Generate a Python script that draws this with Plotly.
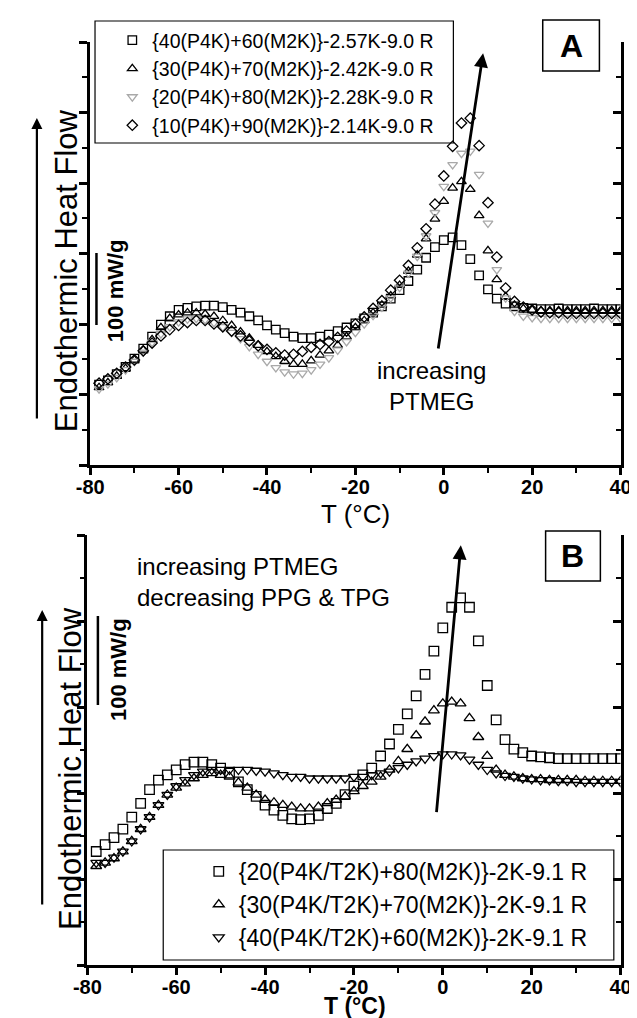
import plotly.graph_objects as go

# ---------------- data ----------------
temperature_c = [-78, -76, -74, -72, -70, -68, -66, -64, -62, -60,
                 -58, -56, -54, -52, -50, -48, -46, -44, -42, -40,
                 -38, -36, -34, -32, -30, -28, -26, -24, -22, -20,
                 -18, -16, -14, -12, -10, -8, -6, -4, -2, 0,
                 2, 4, 6, 8, 10, 12, 14, 16, 18, 20,
                 22, 24, 26, 28, 30, 32, 34, 36, 38, 40]

# Panel A (heat flow in units of 100 mW/g, arbitrary offset)
a_names = ["{40(P4K)+60(M2K)}-2.57K-9.0 R", "{30(P4K)+70(M2K)}-2.42K-9.0 R",
           "{20(P4K)+80(M2K)}-2.28K-9.0 R", "{10(P4K)+90(M2K)}-2.14K-9.0 R"]
a_40p4k = [1.14, 1.20, 1.29, 1.39, 1.51, 1.65, 1.82, 1.99, 2.11, 2.20,
           2.23, 2.25, 2.26, 2.26, 2.24, 2.20, 2.16, 2.11, 2.05, 1.98,
           1.92, 1.87, 1.82, 1.80, 1.80, 1.82, 1.85, 1.90, 1.95, 2.01,
           2.08, 2.16, 2.25, 2.36, 2.48, 2.61, 2.77, 2.94, 3.09, 3.19,
           3.23, 3.12, 2.92, 2.69, 2.49, 2.36, 2.29, 2.25, 2.23, 2.22,
           2.21, 2.21, 2.22, 2.21, 2.21, 2.21, 2.22, 2.21, 2.21, 2.21]
a_30p4k = [1.10, 1.17, 1.26, 1.37, 1.49, 1.63, 1.78, 1.95, 2.08, 2.13,
           2.16, 2.16, 2.14, 2.11, 2.05, 1.98, 1.89, 1.80, 1.70, 1.61,
           1.54, 1.47, 1.43, 1.43, 1.48, 1.56, 1.62, 1.70, 1.82, 1.95,
           2.05, 2.16, 2.27, 2.40, 2.55, 2.75, 2.98, 3.21, 3.49, 3.74,
           3.93, 4.02, 3.91, 3.54, 3.04, 2.63, 2.39, 2.27, 2.22, 2.20,
           2.19, 2.19, 2.19, 2.19, 2.19, 2.19, 2.19, 2.19, 2.19, 2.19]
a_20p4k = [1.08, 1.15, 1.24, 1.35, 1.47, 1.60, 1.74, 1.86, 1.96, 2.03,
           2.07, 2.08, 2.06, 2.02, 1.96, 1.88, 1.79, 1.68, 1.57, 1.47,
           1.38, 1.32, 1.29, 1.30, 1.35, 1.43, 1.52, 1.63, 1.75, 1.88,
           2.00, 2.12, 2.24, 2.37, 2.52, 2.72, 2.96, 3.25, 3.58, 3.95,
           4.26, 4.42, 4.45, 4.12, 3.43, 2.77, 2.37, 2.18, 2.11, 2.09,
           2.08, 2.08, 2.08, 2.08, 2.08, 2.08, 2.08, 2.08, 2.08, 2.08]
a_10p4k = [1.16, 1.22, 1.30, 1.39, 1.49, 1.62, 1.73, 1.83, 1.92, 1.98,
           2.02, 2.05, 2.05, 2.00, 1.96, 1.90, 1.83, 1.76, 1.69, 1.64,
           1.59, 1.56, 1.57, 1.61, 1.67, 1.71, 1.75, 1.81, 1.90, 2.00,
           2.10, 2.22, 2.33, 2.48, 2.62, 2.83, 3.08, 3.35, 3.70, 4.10,
           4.52, 4.85, 4.92, 4.53, 3.72, 2.95, 2.51, 2.32, 2.24, 2.20,
           2.17, 2.16, 2.16, 2.15, 2.15, 2.15, 2.15, 2.15, 2.15, 2.15]

# Panel B
b_names = ["{20(P4K/T2K)+80(M2K)}-2K-9.1 R", "{30(P4K/T2K)+70(M2K)}-2K-9.1 R",
           "{40(P4K/T2K)+60(M2K)}-2K-9.1 R"]
b_20 = [1.32, 1.40, 1.48, 1.58, 1.72, 1.88, 2.04, 2.15, 2.21, 2.27,
        2.33, 2.36, 2.36, 2.33, 2.29, 2.23, 2.13, 2.04, 1.96, 1.86,
        1.80, 1.74, 1.70, 1.69, 1.70, 1.74, 1.82, 1.88, 1.98, 2.08,
        2.21, 2.29, 2.43, 2.57, 2.74, 2.92, 3.13, 3.38, 3.65, 3.92,
        4.16, 4.27, 4.16, 3.77, 3.25, 2.85, 2.62, 2.51, 2.47, 2.43,
        2.42, 2.41, 2.40, 2.40, 2.40, 2.40, 2.40, 2.40, 2.40, 2.40]
b_30 = [1.15, 1.19, 1.24, 1.32, 1.44, 1.58, 1.72, 1.86, 1.98, 2.06,
        2.11, 2.17, 2.21, 2.23, 2.21, 2.19, 2.12, 2.06, 1.98, 1.92,
        1.89, 1.86, 1.84, 1.82, 1.82, 1.84, 1.88, 1.92, 1.96, 2.02,
        2.08, 2.13, 2.19, 2.27, 2.37, 2.51, 2.67, 2.83, 2.96, 3.04,
        3.06, 3.04, 2.87, 2.65, 2.43, 2.27, 2.21, 2.19, 2.17, 2.16,
        2.16, 2.15, 2.15, 2.15, 2.15, 2.14, 2.14, 2.14, 2.14, 2.14]
b_40 = [1.19, 1.19, 1.25, 1.32, 1.44, 1.58, 1.72, 1.86, 1.98, 2.08,
        2.15, 2.21, 2.25, 2.27, 2.27, 2.27, 2.27, 2.27, 2.26, 2.25,
        2.23, 2.21, 2.19, 2.19, 2.17, 2.17, 2.17, 2.17, 2.17, 2.19,
        2.19, 2.21, 2.23, 2.25, 2.29, 2.33, 2.37, 2.40, 2.43, 2.45,
        2.45, 2.44, 2.39, 2.33, 2.27, 2.23, 2.20, 2.19, 2.17, 2.16,
        2.15, 2.15, 2.14, 2.14, 2.13, 2.13, 2.13, 2.13, 2.13, 2.13]

x_tick_vals = [-80, -60, -40, -20, 0, 20, 40]
x_tick_text = ["-80", "-60", "-40", "-20", "0", "20", "40"]

# ---------------- figure ----------------
W, H = 637, 1018
FONT = "Liberation Sans, Arial, Helvetica, sans-serif"


def px(x):
    return x / W


def py(y):
    return 1 - y / H


fig = go.Figure()

a_styles = [
    dict(symbol="square-open", size=8.5, color="black"),
    dict(symbol="triangle-up-open", size=8.5, color="black"),
    dict(symbol="triangle-down-open", size=8.5, color="#a9a9a9"),
    dict(symbol="diamond-open", size=8, color="black"),
]
for name, vals, st in zip(a_names, [a_40p4k, a_30p4k, a_20p4k, a_10p4k], a_styles):
    fig.add_trace(go.Scatter(
        x=temperature_c, y=vals, mode="markers", name=name,
        marker=dict(symbol=st["symbol"], size=st["size"], color=st["color"],
                    line=dict(width=1.3, color=st["color"])),
        xaxis="x", yaxis="y", legend="legend"))

b_styles = [
    dict(symbol="square-open", size=9.5),
    dict(symbol="triangle-up-open", size=9.5),
    dict(symbol="triangle-down-open", size=9.5),
]
for name, vals, st in zip(b_names, [b_20, b_30, b_40], b_styles):
    fig.add_trace(go.Scatter(
        x=temperature_c, y=vals, mode="markers", name=name,
        marker=dict(symbol=st["symbol"], size=st["size"], color="black",
                    line=dict(width=1.3, color="black")),
        xaxis="x2", yaxis="y2", legend="legend2"))

# empty traces so that the mirrored right axes are drawn
fig.add_trace(go.Scatter(x=[], y=[], xaxis="x", yaxis="y3", showlegend=False))
fig.add_trace(go.Scatter(x=[], y=[], xaxis="x2", yaxis="y4", showlegend=False))

LW = 2.5
xcommon = dict(range=[-80, 40], tickvals=x_tick_vals, ticktext=x_tick_text,
               ticks="outside", ticklen=7, tickwidth=LW, tickcolor="black",
               showline=True, linewidth=LW, linecolor="black",
               showgrid=False, zeroline=False, ticklabelstandoff=-5,
               tickfont=dict(family=FONT, size=20, color="black", weight="bold"),
               minor=dict(dtick=10, tick0=0, ticks="outside", ticklen=5,
                          tickwidth=2, tickcolor="black", showgrid=False))
ycommon = dict(ticks="outside", ticklen=8, tickwidth=LW, tickcolor="black",
               showline=True, linewidth=LW, linecolor="black",
               showgrid=False, zeroline=False, showticklabels=False,
               dtick=1, tick0=0,
               minor=dict(dtick=0.5, tick0=0, ticks="outside", ticklen=5,
                          tickwidth=2, tickcolor="black", showgrid=False))
yright = dict(ycommon)
yright.update(ticks="inside",
              minor=dict(dtick=0.5, tick0=0, ticks="inside", ticklen=5,
                         tickwidth=2, tickcolor="black", showgrid=False))

fig.update_layout(
    width=W, height=H, margin=dict(l=0, r=0, t=0, b=0),
    paper_bgcolor="white", plot_bgcolor="white",
    font=dict(family=FONT, color="black"),
    xaxis=dict(domain=[px(71), px(623)], anchor="y", **xcommon),
    yaxis=dict(domain=[py(457), py(34)], anchor="x", range=[0, 6], **ycommon),
    yaxis3=dict(overlaying="y", side="right", anchor="x", range=[0, 6], **yright),
    xaxis2=dict(domain=[px(68), px(623)], anchor="y2", **xcommon),
    yaxis2=dict(domain=[py(957), py(527)], anchor="x2", range=[0, 5], **ycommon),
    yaxis4=dict(overlaying="y2", side="right", anchor="x2", range=[0, 5], **yright),
    legend=dict(x=px(94), y=py(13), xanchor="left", yanchor="top",
                bgcolor="rgba(0,0,0,0)", borderwidth=0,
                font=dict(family=FONT, size=19.5, color="black")),
    legend2=dict(x=px(184), y=py(842), xanchor="left", yanchor="top",
                 bgcolor="rgba(0,0,0,0)", borderwidth=0,
                 font=dict(family=FONT, size=23, color="black")),
    showlegend=True,
)

shapes = [
    # legend boxes
    dict(type="rect", xref="paper", yref="paper", x0=px(76), x1=px(449), y0=py(135), y1=py(13),
         line=dict(color="black", width=1.2)),
    dict(type="rect", xref="paper", yref="paper", x0=px(147), x1=px(616), y0=py(952), y1=py(842),
         line=dict(color="black", width=1.2)),
    # panel label boxes
    dict(type="rect", xref="paper", yref="paper", x0=px(542), x1=px(601), y0=py(63), y1=py(12),
         line=dict(color="black", width=1.5)),
    dict(type="rect", xref="paper", yref="paper", x0=px(545), x1=px(602), y0=py(573), y1=py(523),
         line=dict(color="black", width=1.5)),
    # 100 mW/g scale bars
    dict(type="line", xref="paper", yref="paper", x0=px(77.5), x1=px(77.5), y0=py(317), y1=py(245),
         line=dict(color="black", width=2.5)),
    dict(type="line", xref="paper", yref="paper", x0=px(79), x1=px(79), y0=py(697), y1=py(608),
         line=dict(color="black", width=2.5)),
]
fig.update_layout(shapes=shapes)


def label(text, cx, cy, size, bold=False, angle=0, xanchor="center", align="center"):
    f = dict(family=FONT, size=size, color="black")
    if bold:
        f["weight"] = "bold"
    return dict(text=text, xref="paper", yref="paper", x=px(cx), y=py(cy),
                xanchor=xanchor, yanchor="middle", textangle=angle, align=align,
                showarrow=False, font=f)


ann = []
# y titles
ann.append(label("Endothermic Heat Flow", 46, 263, 31, angle=-90))
ann.append(label("Endothermic Heat Flow", 50, 761, 31, angle=-90))
# arrows next to y titles
ann.append(dict(text="", xref="paper", yref="paper", x=px(15.5), y=py(110), ax=0, ay=302,
                showarrow=True, arrowhead=2, arrowsize=1, arrowwidth=2.2, arrowcolor="black", standoff=0))
ann.append(dict(text="", xref="paper", yref="paper", x=px(21), y=py(602), ax=0, ay=296,
                showarrow=True, arrowhead=2, arrowsize=1, arrowwidth=2.2, arrowcolor="black", standoff=0))
# scale bar labels
ann.append(label("100 mW/g", 97, 283, 22, bold=True, angle=-90))
ann.append(label("100 mW/g", 100, 662, 22, bold=True, angle=-90))
# panel letters
ann.append(label("A", 571.5, 38, 32, bold=True))
ann.append(label("B", 573.5, 548, 32, bold=True))
# x titles
ann.append(label("T (°C)", 347, 506, 26))
ann.append(label("T (°C)", 347, 998, 23, bold=True))
# in-plot texts
ann.append(label("increasing<br>PTMEG", 426, 378, 24))
ann.append(label("increasing PTMEG<br>decreasing PPG &amp; TPG", 118, 574, 24,
                 xanchor="left", align="left"))
# trend arrows
ann.append(dict(text="", xref="x", yref="y", x=8.9, y=5.84, axref="x", ayref="y", ax=-1.3, ay=1.63,
                showarrow=True, arrowhead=2, arrowsize=1, arrowwidth=2.8, arrowcolor="black", standoff=0))
ann.append(dict(text="", xref="x2", yref="y2", x=4.06, y=4.88, axref="x2", ayref="y2", ax=-1.45, ay=1.76,
                showarrow=True, arrowhead=2, arrowsize=1, arrowwidth=2.8, arrowcolor="black", standoff=0))
fig.update_layout(annotations=ann)

fig.write_html("out.html")
